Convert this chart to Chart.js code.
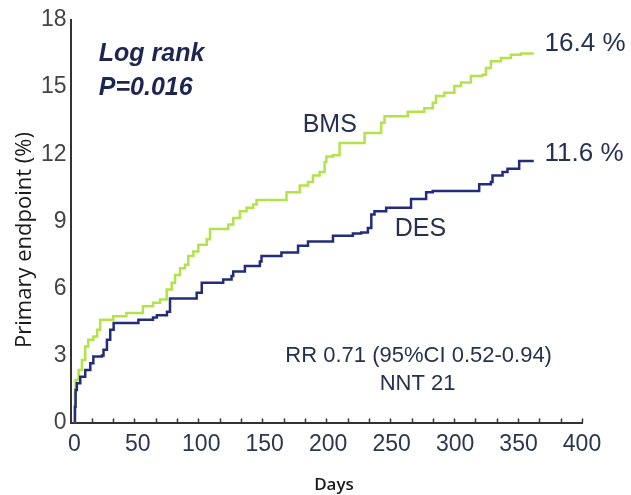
<!DOCTYPE html>
<html>
<head>
<meta charset="utf-8">
<script src="https://cdn.jsdelivr.net/npm/chart.js@4"></script>
<style>
html,body{margin:0;padding:0;background:#fff;}
canvas{display:block;}
</style>
</head>
<body>
<canvas id="c" width="631" height="495"></canvas>
<script>
// ---- data (days, cumulative event %) ----
const bmsDays = [0, 0.5, 1, 3.4, 6, 8.6, 11, 15, 18, 20.4, 30.7, 41, 54, 62, 67.6, 72.8, 76.8, 79.4, 83.3, 87.2, 89.8, 93.8, 97.7, 104.3, 106.9, 121.3, 125.2, 130.5, 135.7, 140.9, 143.6, 167.2, 177.6, 184.1, 188, 193.3, 197.2, 198.6, 203.8, 209, 228.7, 241.8, 244.4, 262.7, 275.8, 282.4, 285, 291.5, 299.4, 304.7, 312.5, 321.6, 324.3, 328.2, 336.1, 344, 351.8, 362];
const bmsValues = [0, 1.3, 1.9, 2.35, 2.8, 3.4, 3.7, 3.85, 4.15, 4.6, 4.75, 4.9, 5.2, 5.35, 5.5, 5.95, 6.25, 6.6, 6.9, 7.05, 7.45, 7.65, 7.95, 8.2, 8.65, 8.85, 9.15, 9.45, 9.6, 9.75, 9.95, 10.3, 10.6, 10.75, 11.05, 11.2, 11.65, 11.9, 11.95, 12.5, 12.95, 13.4, 13.7, 13.9, 14.05, 14.3, 14.6, 14.75, 15.05, 15.2, 15.5, 15.55, 15.85, 16.15, 16.3, 16.45, 16.5, 16.5];
const desDays = [0, 0.5, 1, 2, 4.7, 8.6, 12.6, 15, 21.8, 23, 25.7, 28.3, 31, 50.5, 62, 65, 73, 75.4, 96.4, 100.4, 117.3, 123.9, 125.2, 134.4, 146.2, 147.5, 163.2, 176.3, 184.1, 203.8, 219.5, 226, 231.3, 234, 236.5, 245.7, 265.3, 277.2, 282.4, 319, 328.2, 329.5, 337.4, 341.3, 350.5, 362];
const desValues = [0, 0.7, 1.45, 1.75, 2.05, 2.35, 2.65, 2.95, 3.0, 3.25, 3.7, 4.15, 4.45, 4.6, 4.7, 4.8, 4.95, 5.55, 5.8, 6.25, 6.4, 6.55, 6.75, 7.0, 7.2, 7.45, 7.6, 7.9, 8.1, 8.35, 8.45, 8.5, 8.7, 9.3, 9.45, 9.6, 10.0, 10.3, 10.35, 10.65, 10.75, 11.05, 11.2, 11.35, 11.7, 11.7];
const seriesNames = ['DES', 'BMS'];
const xTickLabels = [0, 50, 100, 150, 200, 250, 300, 350, 400];
const yTickLabels = [0, 3, 6, 9, 12, 15, 18];
const finalLabels = ['11.6 %', '16.4 %'];

const toPoints = (xs, ys) => xs.map((d, i) => ({x: d, y: ys[i]}));

const SANS = '"Liberation Sans", Arial, sans-serif';

const annotations = [
  {text: 'Log rank', x: 19.3, y: 16.15, font: 'italic bold 25px ' + SANS, color: '#1c2650', align: 'left'},
  {text: 'P=0.016', x: 19.3, y: 14.63, font: 'italic bold 25px ' + SANS, color: '#1c2650', align: 'left'},
  {text: seriesNames[1], x: 179.9, y: 13.01, font: '25px ' + SANS, color: '#26314f', align: 'left'},
  {text: seriesNames[0], x: 252.4, y: 8.34, font: '25px ' + SANS, color: '#26314f', align: 'left'},
  {text: finalLabels[1], x: 370.5, y: 16.61, font: '26px ' + SANS, color: '#26314f', align: 'left'},
  {text: finalLabels[0], x: 370.5, y: 11.71, font: '26px ' + SANS, color: '#26314f', align: 'left'},
  {text: 'RR 0.71 (95%CI 0.52-0.94)', x: 271.3, y: 2.72, font: '22px ' + SANS, color: '#26314f', align: 'center'},
  {text: 'NNT 21', x: 270.5, y: 1.46, font: '22px ' + SANS, color: '#26314f', align: 'center'}
];

const textPlugin = {
  id: 'texts',
  afterDraw(chart) {
    const {ctx, scales: {x, y}} = chart;
    ctx.save();
    // small inner ticks on the x axis
    ctx.strokeStyle = '#333';
    ctx.lineWidth = 1.5;
    const n = 24;
    for (let k = 1; k <= n; k++) {
      const v = x.min + (x.max - x.min) * k / n;
      const px = Math.round(x.getPixelForValue(v)) + 0.5;
      ctx.beginPath();
      ctx.moveTo(px, y.bottom);
      ctx.lineTo(px, y.bottom - 4);
      ctx.stroke();
    }
    annotations.forEach(a => {
      ctx.font = a.font;
      ctx.fillStyle = a.color;
      ctx.textAlign = a.align;
      ctx.textBaseline = 'alphabetic';
      ctx.fillText(a.text, x.getPixelForValue(a.x), y.getPixelForValue(a.y));
    });
    // axis titles
    ctx.fillStyle = '#1a1a1a';
    ctx.textAlign = 'center';
    ctx.textBaseline = 'middle';
    ctx.font = '22px "Open Sans", Lato, sans-serif';
    ctx.save();
    ctx.translate(25, 240);
    ctx.rotate(-Math.PI / 2);
    ctx.fillText('Primary endpoint (%)', 0, 0);
    ctx.restore();
    ctx.font = '600 17px "Open Sans", Lato, sans-serif';
    ctx.fillText('Days', 334, 485);
    ctx.restore();
  }
};

new Chart(document.getElementById('c'), {
  type: 'line',
  data: {
    datasets: [
      {label: seriesNames[0], data: toPoints(desDays, desValues), borderColor: '#232c7a', borderWidth: 2.5, stepped: 'before', pointRadius: 0, fill: false},
      {label: seriesNames[1], data: toPoints(bmsDays, bmsValues), borderColor: '#b2e44a', borderWidth: 2.5, stepped: 'before', pointRadius: 0, fill: false}
    ]
  },
  options: {
    responsive: false,
    animation: false,
    devicePixelRatio: 1,
    layout: {padding: {left: 0, right: 49, top: 20, bottom: 0}},
    plugins: {legend: {display: false}, tooltip: {enabled: false}, title: {display: false}},
    scales: {
      x: {
        type: 'linear', min: -3, max: 400,
        afterBuildTicks: s => { s.ticks = xTickLabels.map(v => ({value: v})); },
        afterFit: s => { s.height = 72.5; },
        grid: {display: false, drawTicks: false},
        border: {display: true, color: '#333', width: 2},
        ticks: {font: {family: SANS, size: 23}, color: '#2c3650', padding: 8, maxRotation: 0, autoSkip: false}
      },
      y: {
        type: 'linear', min: 0, max: 18,
        afterBuildTicks: s => { s.ticks = yTickLabels.map(v => ({value: v})); },
        afterFit: s => { s.width = 70.5; },
        grid: {display: false, drawTicks: false},
        border: {display: true, color: '#333', width: 2},
        ticks: {font: {family: SANS, size: 23}, color: '#444', padding: 4}
      }
    }
  },
  plugins: [textPlugin]
});
</script>
</body>
</html>
